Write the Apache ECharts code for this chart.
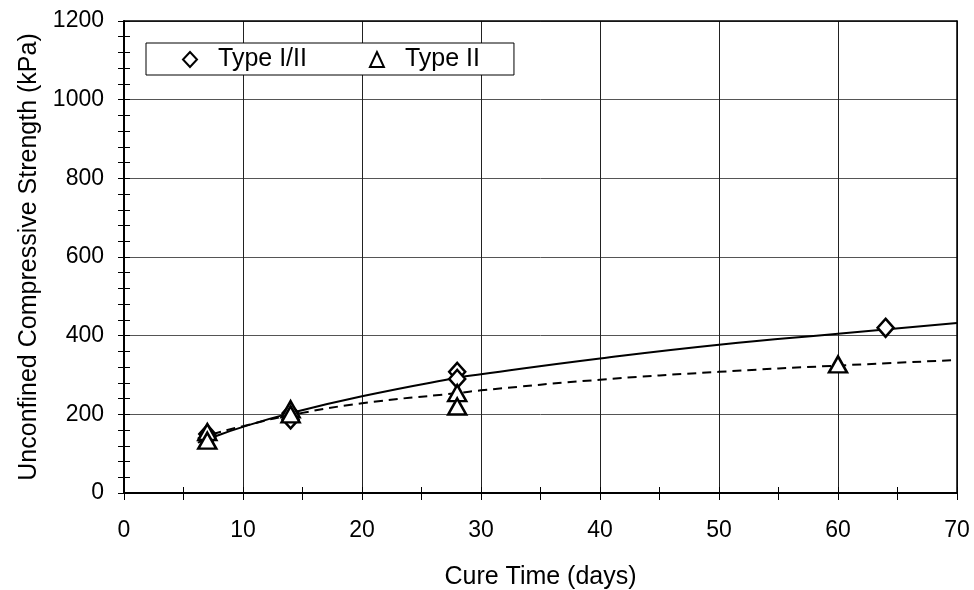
<!DOCTYPE html>
<html>
<head>
<meta charset="utf-8">
<script src="https://cdn.jsdelivr.net/npm/echarts@6/dist/echarts.min.js"></script>
<style>
html,body{margin:0;padding:0;background:#fff;}
#chart{width:974px;height:590px;}
</style>
</head>
<body>
<div id="chart"></div>
<script>
// Measured data points (cure time in days, UCS in kPa)
var typeI_II = [[7,150],[7,140],[14,203],[14,187],[28,308],[28,290],[64,420]];
var typeII   = [[7,155],[7,133],[14,213],[14,200],[28,254],[28,220],[60,327]];
// Trend curves
var trendI_II = [[6.2,128],[7,137],[10,168],[14,203],[20,246],[28,293],[30,302],[40,342],[50,377],[60,405],[70,432]];
var trendII   = [[6.2,138],[7,146],[10,170],[14,198],[20,228],[28,254],[30,261],[40,288],[50,308],[60,324],[70,338]];
var xTicks = [0,10,20,30,40,50,60,70];
var yTicks = [0,200,400,600,800,1000,1200];

var FONT = 'Liberation Sans';
var chart = echarts.init(document.getElementById('chart'), null, {renderer:'canvas'});
var grid = {left:124, right:17, top:21, bottom:97, containLabel:false, outerBoundsMode:'none'};
var baseX = {
  type:'value', min:xTicks[0], max:xTicks[xTicks.length-1], interval:10, gridIndex:0
};
var baseY = {
  type:'value', min:yTicks[0], max:yTicks[yTicks.length-1], interval:200, gridIndex:0
};
var plain = function(v){ return String(v); };
var option = {
  backgroundColor:'#fff',
  animation:false,
  grid:grid,
  legend:{
    left:146, top:43,
    orient:'horizontal',
    data:['Type I/II','Type II'],
    backgroundColor:'#fff', borderColor:'#000', borderWidth:1,
    padding:[4,34,3,36], itemGap:62, itemWidth:14, itemHeight:15,
    textStyle:{fontFamily:FONT, fontSize:25, color:'#000', padding:[0,0,0,16]}
  },
  xAxis:[
    Object.assign({}, baseX, {
      position:'bottom',
      name:'Cure Time (days)', nameLocation:'middle', nameGap:72,
      nameTextStyle:{fontFamily:FONT, fontSize:25, color:'#000'},
      axisLine:{show:true, onZero:false, lineStyle:{color:'#000', width:2}},
      axisTick:{show:true, inside:false, length:7, lineStyle:{color:'#000', width:1}},
      minorTick:{show:true, splitNumber:2, length:7, lineStyle:{color:'#000', width:1}},
      axisLabel:{fontFamily:FONT, fontSize:23, color:'#000', margin:26, formatter:plain},
      splitLine:{show:true, lineStyle:{color:'#222', width:1}}
    }),
    Object.assign({}, baseX, {
      position:'bottom',
      axisLine:{show:false},
      axisTick:{show:true, inside:true, length:6, lineStyle:{color:'#000', width:1}},
      minorTick:{show:true, splitNumber:2, length:6, lineStyle:{color:'#000', width:1}},
      axisLabel:{show:false},
      splitLine:{show:false}
    }),
    Object.assign({}, baseX, {
      position:'top',
      axisLine:{show:true, onZero:false, lineStyle:{color:'#000', width:1.5}},
      axisTick:{show:false}, axisLabel:{show:false}, splitLine:{show:false}
    })
  ],
  yAxis:[
    Object.assign({}, baseY, {
      position:'left',
      name:'Unconfined Compressive Strength (kPa)', nameLocation:'middle', nameGap:82,
      nameTextStyle:{fontFamily:FONT, fontSize:25, color:'#000'},
      axisLine:{show:true, onZero:false, lineStyle:{color:'#000', width:2}},
      axisTick:{show:true, inside:false, length:6, lineStyle:{color:'#000', width:1}},
      minorTick:{show:true, splitNumber:5, length:6, lineStyle:{color:'#000', width:1}},
      axisLabel:{fontFamily:FONT, fontSize:23, color:'#000', margin:20, formatter:plain},
      splitLine:{show:true, lineStyle:{color:'#555', width:1}}
    }),
    Object.assign({}, baseY, {
      position:'left',
      axisLine:{show:false},
      axisTick:{show:true, inside:true, length:6, lineStyle:{color:'#000', width:1}},
      minorTick:{show:true, splitNumber:5, length:6, lineStyle:{color:'#000', width:1}},
      axisLabel:{show:false}, splitLine:{show:false}
    }),
    Object.assign({}, baseY, {
      position:'right',
      axisLine:{show:true, onZero:false, lineStyle:{color:'#000', width:1.5}},
      axisTick:{show:false}, axisLabel:{show:false}, splitLine:{show:false}
    })
  ],
  series:[
    {
      name:'trend I/II', type:'line', data:trendI_II, smooth:true, showSymbol:false, symbol:'none',
      lineStyle:{color:'#000', width:2, type:'solid'}, z:3, silent:true
    },
    {
      name:'trend II', type:'line', data:trendII, smooth:true, showSymbol:false, symbol:'none',
      lineStyle:{color:'#000', width:2, type:[9,6]}, z:3, silent:true
    },
    {
      name:'Type I/II', type:'scatter', data:typeI_II, symbol:'diamond', symbolSize:[16,18],
      itemStyle:{color:'#fff', borderColor:'#000', borderWidth:2.5, opacity:1}, z:5
    },
    {
      name:'Type II', type:'scatter', data:typeII, symbol:'triangle', symbolSize:[18,16],
      itemStyle:{color:'#fff', borderColor:'#000', borderWidth:2.5, opacity:1}, z:5
    }
  ]
};
chart.setOption(option);
</script>
</body>
</html>
